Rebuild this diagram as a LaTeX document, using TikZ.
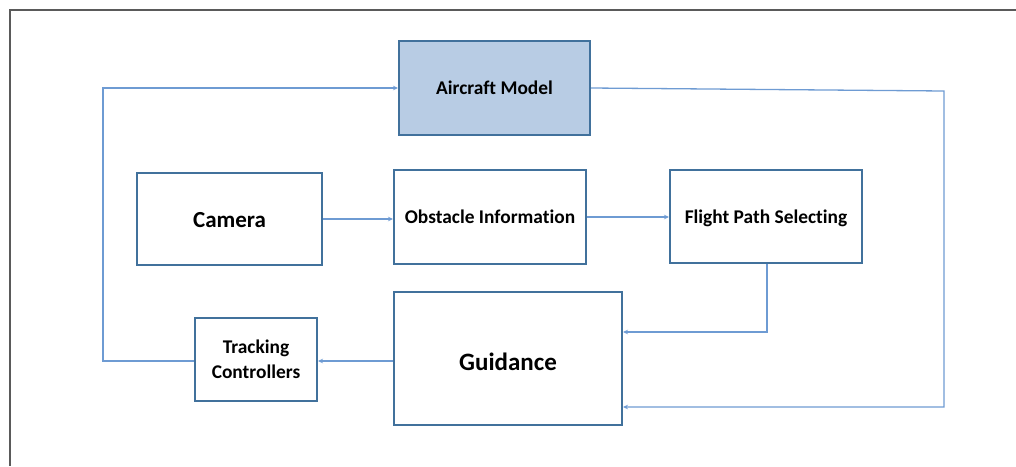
\documentclass[tikz,border=0pt]{standalone}
\usepackage{fontspec}
\setmainfont{Carlito}[Ligatures={NoCommon,NoContextual}]
\usetikzlibrary{arrows.meta}
\definecolor{boxline}{HTML}{41719C}
\definecolor{boxfill}{HTML}{B8CCE4}
\definecolor{conncol}{HTML}{6E9BD3}
\definecolor{framecol}{HTML}{5A5A5A}
\newcommand{\lowerby}[2]{\raisebox{-#1}[\height][\depth]{#2}}
\tikzset{
  blk/.style={draw=boxline, line width=2pt, fill=white, rectangle, inner sep=0pt, align=center, font=\bfseries\fontsize{19.4}{23}\selectfont},
  conn/.style={draw=conncol, line width=1.3pt},
  arr/.style={conn, -{Stealth[length=5pt,width=4.5pt]}},
}
\begin{document}
\begin{tikzpicture}[x=1pt,y=-1pt]
\useasboundingbox (0,0) rectangle (1016,466);
\draw[framecol, line width=1.5pt] (1016,10) -- (10,10) -- (10,466);
% nodes
\node[blk, fill=boxfill, minimum width=191pt, minimum height=94pt] (air) at (494.5,88) {Aircraft Model};
\node[blk, minimum width=185pt, minimum height=92pt, font=\bfseries\fontsize{23}{27}\selectfont] (cam) at (229.5,219) {\lowerby{1pt}{Camera}};
\node[blk, minimum width=192pt, minimum height=94pt] (obs) at (490,217) {Obstacle Information};
\node[blk, minimum width=192pt, minimum height=93pt] (fps) at (766,216.5) {\lowerby{1.5pt}{Flight Path Selecting}};
\node[blk, minimum width=228pt, minimum height=133pt, font=\bfseries\fontsize{25}{30}\selectfont] (gui) at (508,358.5) {\lowerby{3.5pt}{Guidance}};
\node[blk, minimum width=122pt, minimum height=83pt, font=\bfseries\fontsize{19.4}{25}\selectfont] (trk) at (256,359.5) {Tracking\\Controllers};
% helper coordinates
\coordinate (rtop) at (944,91);
\coordinate (rbot) at (944,407);
\coordinate (fpsturn) at (767,332);
\coordinate (ltop) at (103,88);
\coordinate (lbot) at (103,361);
% connectors
\draw[arr] (cam.east) -- (obs.west |- cam.east);
\draw[arr] (obs.east) -- (fps.west |- obs.east);
\draw[arr] (fps.south -| fpsturn) -- (fpsturn) -- (gui.east |- fpsturn);
\draw[arr] (air.east) -- (rtop) -- (rbot) -- (gui.east |- rbot);
\draw[arr] (gui.west |- lbot) -- (trk.east |- lbot);
\draw[arr] (trk.west |- lbot) -- (lbot) -- (ltop) -- (air.west |- ltop);
\end{tikzpicture}
\end{document}
